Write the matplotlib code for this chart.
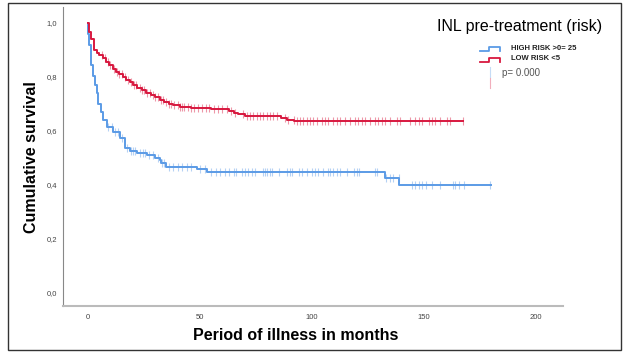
import numpy as np
import matplotlib
matplotlib.use('Agg')
import matplotlib.pyplot as plt
from matplotlib.lines import Line2D
from matplotlib.patches import Rectangle

# Kaplan-Meier steps (months, survival after the drop)
low_t = [0, 0.5, 1.5, 2.6, 4, 5, 6.5, 8, 9.5, 11, 12.5, 14, 15.5, 17, 18.5, 20,
         22, 24, 26, 28, 30, 32, 34, 36, 38, 41, 46, 55, 63, 65, 67, 70, 86, 89, 92, 167.5]
low_s = [1.0, 0.967, 0.94, 0.90, 0.89, 0.88, 0.87, 0.855, 0.845, 0.83, 0.82, 0.81, 0.80,
         0.79, 0.78, 0.77, 0.76, 0.75, 0.74, 0.735, 0.725, 0.715, 0.708, 0.70, 0.696, 0.69,
         0.686, 0.68, 0.675, 0.668, 0.662, 0.655, 0.648, 0.642, 0.637, 0.637]

high_t = [0, 0.01, 0.4, 1.3, 2.3, 3.2, 3.9, 4.6, 5.7, 6.8, 8.3, 11.3, 14.3, 16.5, 18.8, 22,
          26.5, 30, 32, 32.5, 35, 48.5, 53, 132.5, 139, 180]
high_s = [1.0, 0.96, 0.918, 0.844, 0.805, 0.77, 0.74, 0.70, 0.67, 0.64, 0.616, 0.597, 0.573,
          0.536, 0.527, 0.517, 0.511, 0.50, 0.493, 0.48, 0.468, 0.458, 0.447, 0.425, 0.40, 0.40]

# censored cases (months)
low_cens = [6, 7.5, 9, 10, 11.5, 13, 14, 15, 16.5, 18, 19, 20.5, 21.5, 23, 24, 25, 26.5, 27.5,
            29, 30, 31, 32.5, 33.5, 35, 36, 37, 38.5, 40, 41, 42, 43, 44.5, 46, 47.5, 49, 51,
            52.5, 54, 56, 58, 60, 62, 64, 65.5, 69.3, 70.8, 72.3, 73.8, 75.2, 76.8, 78.3,
            79.8, 81.3, 82.7, 84.2, 87.9, 89.4, 91.7, 93.2, 94.6, 96.1, 97.6, 99.1, 100.6,
            102, 104.3, 105.8, 107.3, 109.5, 111, 112.5, 114.7, 116.9, 119.2, 120.7, 122.2,
            123.7, 126, 128.1, 129.6, 131.1, 132.6, 134.8, 137.8, 139.3, 143.8, 146, 147.5,
            149, 152, 153.5, 155, 157.1, 160.1, 161.6, 167.5]
high_cens = [9, 10.5, 12, 13.5, 15, 17.5, 19, 20, 21, 23, 24.5, 25.5, 27, 29, 31, 33, 34, 36,
             38, 40, 42, 44, 46, 50, 52, 55, 57, 59, 61, 63, 65, 66, 68.6, 70, 71.6, 73, 74.6,
             78.3, 79, 79.8, 81.3, 82, 85, 88.7, 90.2, 90.9, 94, 95.4, 97.6, 99.9, 101.3,
             102.8, 105, 107.3, 108, 109.5, 111, 112.5, 115.5, 118.5, 120, 121, 128, 128.8,
             133, 134.8, 136.3, 138.6, 144.5, 146, 147.5, 149, 151, 153.6, 157, 163, 163.9,
             165.4, 167.6, 179.5]

x_ticks = [0, 50, 100, 150, 200]
y_ticks = [0.0, 0.2, 0.4, 0.6, 0.8, 1.0]
y_tick_labels = ['0,0', '0,2', '0,4', '0,6', '0,8', '1,0']

BLUE = '#5b9be6'
RED = '#d8183f'

plt.rcParams['font.family'] = ['Liberation Sans', 'DejaVu Sans']

W, H = 625, 353
fig = plt.figure(figsize=(W / 100, H / 100), dpi=100)
ax = fig.add_axes([63 / W, 1 - 306 / H, 500 / W, 299 / H])


def surv_at(t_list, s_list, ct):
    idx = np.searchsorted(np.array(t_list), np.array(ct), side='right') - 1
    return np.array(s_list)[idx]


for t, s, c, col in [(high_t, high_s, high_cens, BLUE), (low_t, low_s, low_cens, RED)]:
    ax.step(t, s, where='post', color=col, lw=1.4)
    ax.plot(c, surv_at(t, s, c), linestyle='none', marker='|', ms=6, mew=0.8,
            color=col, alpha=0.45)

ax.set_xlim(-11.2, 212)
ax.set_ylim(-0.048, 1.059)
ax.set_xticks(x_ticks)
ax.set_xticklabels([str(v) for v in x_ticks])
ax.set_yticks(y_ticks)
ax.set_yticklabels(y_tick_labels)
ax.tick_params(length=0, labelsize=5.5, labelcolor='#444444')
ax.tick_params(axis='x', pad=6)
ax.tick_params(axis='y', pad=4)
for side in ['top', 'right']:
    ax.spines[side].set_visible(False)
ax.spines['left'].set_color('#888888')
ax.spines['bottom'].set_color('#bbbbbb')
ax.spines['bottom'].set_linewidth(1.5)

fig.text(32 / W, 1 - 157 / H, 'Cumulative survival', rotation=90, ha='center', va='center',
         fontsize=11.5, fontweight='bold')
fig.text(296 / W, 1 - 335 / H, 'Period of illness in months', ha='center', va='center',
         fontsize=11.5, fontweight='bold')

# legend block
fig.text(602 / W, 1 - 27 / H, 'INL pre-treatment (risk)', ha='right', va='center', fontsize=11.5)


def px(xs, ys):
    return [v / W for v in xs], [1 - v / H for v in ys]


for y0, col, lab in [(50.5, BLUE, 'HIGH RISK >0= 25'), (61.5, RED, 'LOW RISK <5')]:
    lx, ly = px([480, 488.5, 488.5, 499.5, 499.5], [y0, y0, y0 - 4, y0 - 4, y0])
    fig.add_artist(Line2D(lx, ly, color=col, lw=1.3, transform=fig.transFigure))
    fig.text(511 / W, 1 - (y0 - 2.5) / H, lab, ha='left', va='center', fontsize=5.5,
             fontweight='bold', color='#222222')

lx, ly = px([490, 490], [66.5, 77])
fig.add_artist(Line2D(lx, ly, color=BLUE, lw=0.8, alpha=0.35, transform=fig.transFigure))
lx, ly = px([490, 490], [78, 88])
fig.add_artist(Line2D(lx, ly, color=RED, lw=0.8, alpha=0.35, transform=fig.transFigure))
fig.text(502 / W, 1 - 72.5 / H, 'p= 0.000', ha='left', va='center', fontsize=7,
         color='#555555')

# outer frame
fig.add_artist(Rectangle((8 / W, 3 / H), 613 / W, 347 / H, fill=False, ec='#333333',
                         lw=1.0, transform=fig.transFigure))

fig.savefig('out.png', dpi=100)
